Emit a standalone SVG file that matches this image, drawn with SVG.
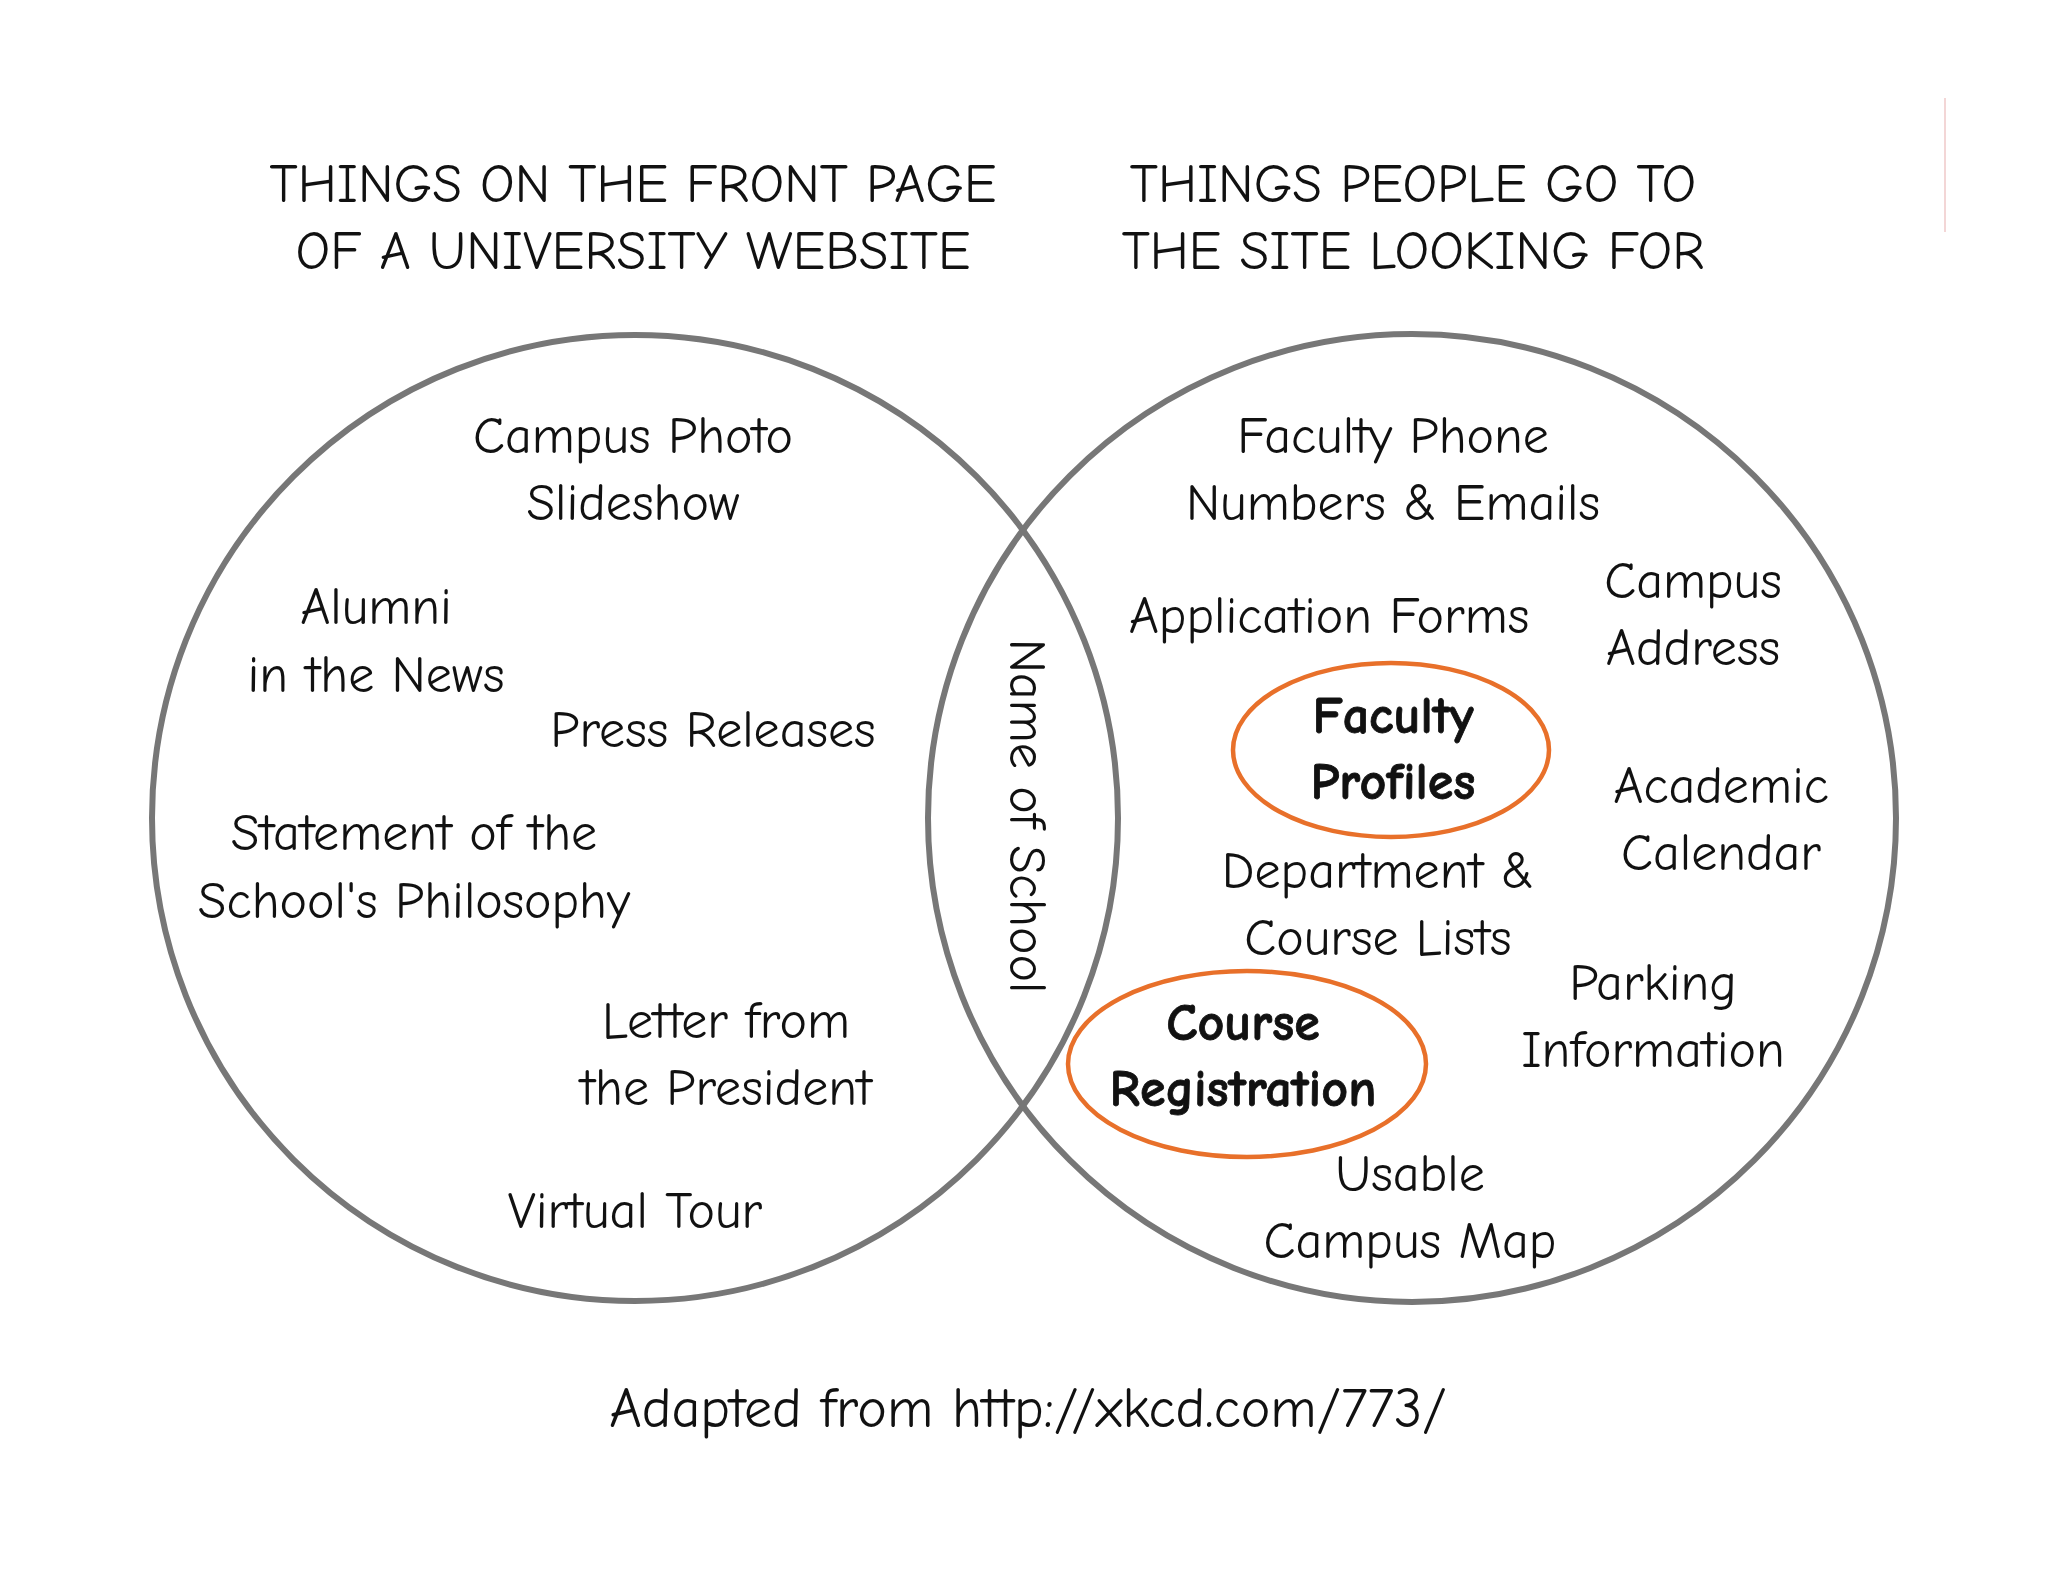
<svg xmlns="http://www.w3.org/2000/svg" width="2048" height="1582" viewBox="0 0 2048 1582">
<style>
text{font-family:"Comic Neue","DejaVu Sans","Liberation Sans",sans-serif;font-size:52px;fill:#111;text-anchor:middle}
.t{font-size:54px}
.b{font-weight:900;stroke:#111;stroke-width:0.8}
.f{font-size:56px}
.c{fill:none;stroke:#777;stroke-width:6}
.o{fill:none;stroke:#E8702A;stroke-width:4.5}
</style>
<rect width="2048" height="1582" fill="#fff"/>
<line x1="1945" y1="98" x2="1945" y2="232" stroke="#f3d6d6" stroke-width="2"/>
<g id="titles">
<text class="t" x="633" y="202">THINGS ON THE FRONT PAGE</text>
<text class="t" x="633" y="269">OF A UNIVERSITY WEBSITE</text>
<text class="t" x="1413" y="202">THINGS PEOPLE GO TO</text>
<text class="t" x="1413" y="269">THE SITE LOOKING FOR</text>
</g>
<g id="circle-left"><circle class="c" cx="635" cy="818" r="483"/></g>
<g id="circle-right"><circle class="c" cx="1412" cy="818" r="484"/></g>
<g id="left-items">
<text x="633" y="453">Campus Photo</text><text x="633" y="520">Slideshow</text>
<text x="376" y="624">Alumni</text><text x="376" y="692">in the News</text>
<text x="713" y="747">Press Releases</text>
<text x="414" y="850">Statement of the</text><text x="414" y="918">School's Philosophy</text>
<text x="726" y="1038">Letter from</text><text x="726" y="1105">the President</text>
<text x="635" y="1228">Virtual Tour</text>
</g>
<g id="center"><text transform="translate(1010,816) rotate(90)">Name of School</text></g>
<g id="right-items">
<text x="1393" y="453">Faculty Phone</text><text x="1393" y="520">Numbers &amp; Emails</text>
<text x="1329" y="633">Application Forms</text>
<text x="1693" y="598">Campus</text><text x="1693" y="665">Address</text>
<text x="1721" y="803">Academic</text><text x="1721" y="870">Calendar</text>
<text x="1378" y="888">Department &amp;</text><text x="1378" y="955">Course Lists</text>
<text x="1653" y="1000">Parking</text><text x="1653" y="1067">Information</text>
<text x="1410" y="1191">Usable</text><text x="1410" y="1258">Campus Map</text>
</g>
<g id="faculty-profiles"><ellipse class="o" cx="1391" cy="750" rx="158" ry="87"/>
<text class="b" x="1393" y="733">Faculty</text><text class="b" x="1393" y="799">Profiles</text></g>
<g id="course-registration"><ellipse class="o" cx="1247" cy="1064" rx="179" ry="93"/>
<text class="b" x="1243" y="1040">Course</text><text class="b" x="1243" y="1106">Registration</text></g>
<g id="connectors"/>
<text class="f" x="1028" y="1427">Adapted from http://xkcd.com/773/</text>
</svg>
